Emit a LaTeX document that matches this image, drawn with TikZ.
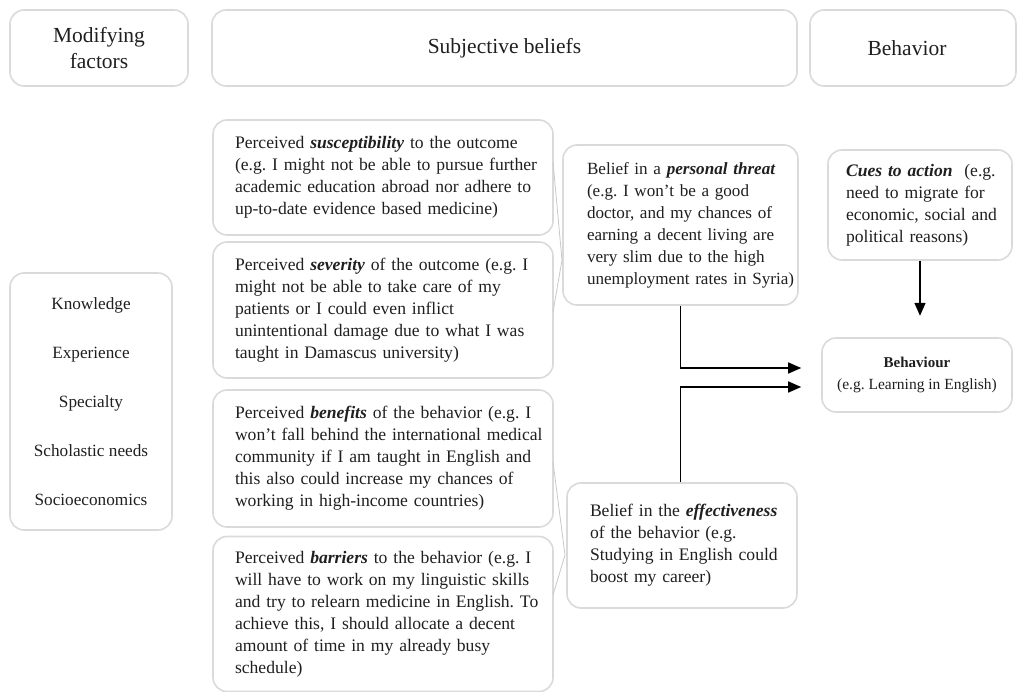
\documentclass[tikz,border=0pt]{standalone}
\usepackage{fontspec}
\setmainfont{Liberation Serif}
\usetikzlibrary{arrows.meta,calc}
\definecolor{boxgray}{RGB}{218,218,218}
\definecolor{linegray}{RGB}{200,200,200}
\newcommand{\bi}[1]{\textbf{\textit{#1}}}
\newcommand{\lines}[1]{\begin{tabular}{@{}l@{}}#1\end{tabular}}
\frenchspacing
\begin{document}
\begin{tikzpicture}[x=1pt,y=-1pt,
  box/.style={draw=boxgray, line width=1.6pt, rounded corners=14pt, inner sep=0pt,
    font=\fontsize{17.6}{22}\selectfont, text=black!88},
  leftbox/.style={box, inner xsep=#1, inner ysep=0pt},
  headbox/.style={box, align=center, font=\fontsize{21.5}{26}\selectfont},
  arr/.style={line width=1.6pt, -{Triangle[length=13pt,width=11pt]}},
  thin/.style={draw=linegray, line width=0.8pt}]
\useasboundingbox (0,0) rectangle (1017,692);

% headers
\node[headbox, minimum width=178pt, minimum height=76pt] (hmod) at (99,48) {Modifying\\factors};
\node[headbox, minimum width=585pt, minimum height=76pt] (hsub) at (504.5,48) {Subjective beliefs};
\node[headbox, minimum width=206pt, minimum height=76pt] (hbeh) at (913,48) {Behavior\hspace*{12pt}};

% modifying factors list
\node[box, align=center, minimum width=162pt, minimum height=257pt,
  font=\fontsize{17.2}{49}\selectfont] (mf) at (91,401.5)
  {Knowledge\\Experience\\Specialty\\Scholastic needs\\Socioeconomics};

% perceived boxes
\node[leftbox=22pt, text width=296pt, minimum height=115pt] (sus) at (383,177.5)
  {\lines{Perceived \bi{susceptibility} to the outcome\\(e.g. I might not be able to pursue further\\academic education abroad nor adhere to\\up-to-date evidence based medicine)}};
\node[leftbox=22pt, text width=296pt, minimum height=136pt] (sev) at (383,310)
  {\lines{Perceived \bi{severity} of the outcome (e.g. I\\might not be able to take care of my\\patients or I could even inflict\\unintentional damage due to what I was\\taught in Damascus university)}};
\node[leftbox=22pt, text width=296pt, minimum height=137pt] (ben) at (383,458.5)
  {\lines{Perceived \bi{benefits} of the behavior (e.g. I\\won't fall behind the international medical\\community if I am taught in English and\\this also could increase my chances of\\working in high-income countries)}};
\node[leftbox=22pt, text width=296pt, minimum height=155pt] (bar) at (383,614)
  {\lines{Perceived \bi{barriers} to the behavior (e.g. I\\will have to work on my linguistic skills\\and try to relearn medicine in English. To\\achieve this, I should allocate a decent\\amount of time in my already busy\\schedule)}};

% belief boxes
\node[leftbox=24pt, text width=187pt, minimum height=160pt,
  font=\fontsize{17.1}{22}\selectfont] (pt) at (680.5,225)
  {\lines{Belief in a \bi{personal threat}\\(e.g. I won't be a good\\doctor, and my chances of\\earning a decent living are\\very slim due to the high\\unemployment rates in Syria)}};
\node[leftbox=23pt, text width=184pt, minimum height=125pt] (eff) at (682,545.5)
  {\lines{Belief in the \bi{effectiveness}\\of the behavior (e.g.\\Studying in English could\\boost my career)}};

% cues and behaviour
\node[leftbox=18pt, text width=148pt, minimum height=110pt] (cues) at (920,205)
  {\lines{\bi{Cues to action} \ (e.g.\\need to migrate for\\economic, social and\\political reasons)}};
\node[box, align=center, minimum width=190pt, minimum height=74pt] (beh) at (917,375)
  {{\fontsize{15}{21}\selectfont\textbf{Behaviour}}\\{\fontsize{15.5}{19}\selectfont(e.g. Learning in English)}};

% thin converging lines
\coordinate (s1) at (553,162);
\coordinate (s2) at (553,312);
\coordinate (apx1) at (562,260);
\coordinate (b1) at (553,462);
\coordinate (b2) at (553,595);
\coordinate (apx2) at (565,555);
\draw[thin] (s1) -- (apx1) -- (s2);
\draw[thin] (b1) -- (apx2) -- (b2);

% arrows
\coordinate (tip1) at ($(beh.west)+(-20,-7)$);
\coordinate (tip2) at ($(beh.west)+(-20,12)$);
\coordinate (tip3) at ($(cues.south)+(0,55)$);
\draw[arr] (pt.south) |- (tip1);
\draw[arr] (eff.north -| pt.south) |- (tip2);
\draw[arr] (cues.south) -- (tip3);
\end{tikzpicture}
\end{document}
